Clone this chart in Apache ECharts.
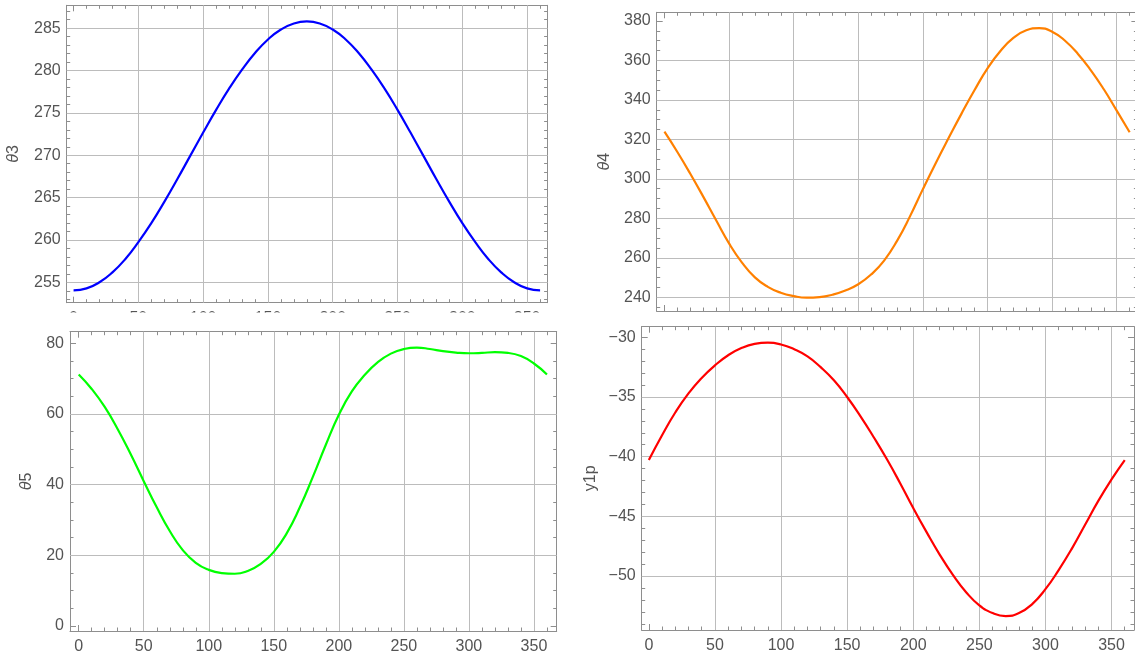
<!DOCTYPE html>
<html><head><meta charset="utf-8">
<script src="https://cdn.jsdelivr.net/npm/echarts@6/dist/echarts.min.js"></script>
<style>html,body{margin:0;padding:0;background:#fff}#c{width:1135px;height:657px}</style>
</head><body><div id="c"></div>
<script>
// crank angle (degrees)
const angles = [0,10,20,30,40,50,60,70,80,90,100,110,120,130,140,150,160,170,180,190,200,210,220,230,240,250,260,270,280,290,300,310,320,330,340,350,360];
// series values
const theta3 = [254.05,254.29,255.01,256.18,257.76,259.75,261.99,264.50,267.17,269.93,272.68,275.36,277.86,280.10,282.07,283.67,284.84,285.56,285.80,285.56,284.84,283.67,282.07,280.10,277.86,275.36,272.68,269.93,267.17,264.50,261.99,259.75,257.76,256.18,255.01,254.29,254.05];
const theta4 = [323.9,313.6,302.6,291.0,279.0,267.3,257.6,250.1,245.3,242.3,240.6,239.8,240.1,241.3,243.4,246.6,251.6,258.6,268.6,281.0,294.8,308.1,320.8,333.2,345.0,356.0,364.8,371.4,375.3,376.4,374.6,370.0,363.3,355.0,345.4,334.6,323.6];
const theta5 = [71.2,67.1,62.0,55.7,48.6,41.0,33.6,26.9,21.5,17.9,15.9,15.0,14.8,15.6,17.6,21.0,26.3,33.6,42.2,51.3,59.8,66.4,71.1,74.7,77.1,78.4,78.8,78.4,77.8,77.4,77.2,77.3,77.5,77.3,76.4,74.3,71.2];
const y1p = [-40.28,-38.2,-36.3,-34.7,-33.4,-32.35,-31.5,-30.9,-30.55,-30.45,-30.6,-31.0,-31.6,-32.5,-33.6,-35.0,-36.6,-38.35,-40.2,-42.2,-44.3,-46.3,-48.2,-49.9,-51.35,-52.45,-53.1,-53.35,-53.1,-52.35,-51.1,-49.5,-47.7,-45.7,-43.7,-41.9,-40.28];
// grid line positions
const xGridLines = [50,100,150,200,250,300,350];
const theta3GridLines = [255,260,265,270,275,280,285];
const theta4GridLines = [240,260,280,300,320,340,360];
const theta5GridLines = [20,40,60];
const y1pGridLines = [-35,-40,-45,-50];
// axis names
const yNames = ['{i|θ}3','{i|θ}4','{i|θ}5','y1p'];

const FRAME = '#8e8e8e', LABEL = '#545454', GRIDC = '#bcbcbc';
const FONT = '"Liberation Sans", Arial, sans-serif';
const FS = 16;

const panels = [
  {name:yNames[0], data:theta3, color:'#0000ff', gridLines:theta3GridLines, xMin:-5.3, xMax:365.8, yMin:252.6, yMax:287.7, yStep:5, yMinor:5, nameGap:45, xLabels:true,
   rect:{left:66.7, top:5.3, width:480.9, height:297.4}},
  {name:yNames[1], data:theta4, color:'#ff8000', gridLines:theta4GridLines, xMin:-6, xMax:366, yMin:233.06, yMax:384.4, yStep:20, yMinor:4, nameGap:44, xLabels:false,
   rect:{left:656.7, top:12.3, width:480.7, height:298.7}},
  {name:yNames[2], data:theta5, color:'#00ff00', gridLines:theta5GridLines, xMin:-6.7, xMax:367.5, yMin:-1.4, yMax:83.3, yStep:20, yMinor:4, nameGap:35, xLabels:true,
   rect:{left:70, top:331.7, width:486.7, height:299.3}},
  {name:yNames[3], data:y1p, color:'#ff0000', gridLines:y1pGridLines, xMin:-5.4, xMax:367, yMin:-54.52, yMax:-29.11, yStep:5, yMinor:5, nameGap:43.5, xLabels:true,
   rect:{left:641.7, top:326.7, width:492.3, height:303.3}}
];

const lineC = {show:true, onZero:false, lineStyle:{color:FRAME, width:1}};
const tickC = {show:true, inside:true, length:6, lineStyle:{color:FRAME, width:1}};
const fmt = v => String(v).replace('-', '\u2212');

const grid = [], xAxis = [], yAxis = [], series = [];
panels.forEach((p, i) => {
  grid.push(Object.assign({show:false, containLabel:false, outerBoundsMode:'none'}, p.rect));
  ['bottom','top'].forEach(pos => {
    xAxis.push({type:'value', gridIndex:i, position:pos, min:p.xMin, max:p.xMax,
      minInterval:50, maxInterval:50, splitNumber:7,
      axisLine:lineC, axisTick:tickC,
      minorTick:{show:true, splitNumber:5, length:3.5, lineStyle:{color:FRAME, width:1}},
      splitLine:{show:false}, minorSplitLine:{show:false},
      axisLabel:{show: pos==='bottom' && p.xLabels, margin:8, color:LABEL, fontSize:FS, fontFamily:FONT,
        showMinLabel:false, showMaxLabel:false}
    });
  });
  ['left','right'].forEach(pos => {
    yAxis.push({type:'value', gridIndex:i, position:pos, min:p.yMin, max:p.yMax,
      minInterval:p.yStep, maxInterval:p.yStep,
      axisLine:lineC, axisTick:tickC,
      minorTick:{show:true, splitNumber:p.yMinor, length:3.5, lineStyle:{color:FRAME, width:1}},
      splitLine:{show:false}, minorSplitLine:{show:false},
      axisLabel:{show: pos==='left', margin:6, color:LABEL, fontSize:FS, fontFamily:FONT, formatter:fmt,
        showMinLabel:false, showMaxLabel:false},
      name: pos==='left' ? p.name : '', nameLocation:'middle', nameGap:p.nameGap, nameRotate:90,
      nameTextStyle:{color:LABEL, fontSize:FS, fontFamily:FONT,
        rich:{i:{fontStyle:'italic', color:LABEL, fontSize:FS, fontFamily:FONT}}}
    });
  });
  series.push({type:'line', xAxisIndex:2*i, yAxisIndex:2*i,
    data: angles.map((a, k) => [a, p.data[k]]),
    smooth:0.5, showSymbol:false, symbol:'none', z:3,
    lineStyle:{color:p.color, width:2.2}, itemStyle:{color:p.color},
    emphasis:{disabled:true},
    markLine:{silent:true, symbol:['none','none'], z:1, animation:false,
      label:{show:false}, emphasis:{disabled:true},
      lineStyle:{color:GRIDC, width:1, type:'solid'},
      data:[...xGridLines.map(v => ({xAxis:v})), ...p.gridLines.map(v => ({yAxis:v}))]}
  });
});

const chart = echarts.init(document.getElementById('c'), null, {renderer:'canvas'});
chart.setOption({
  animation:false,
  backgroundColor:'#ffffff',
  grid, xAxis, yAxis, series,
  graphic:[{type:'rect', silent:true, z:100, shape:{x:0, y:312.5, width:1135, height:13.5}, style:{fill:'#ffffff'}}]
});
</script>
</body></html>
